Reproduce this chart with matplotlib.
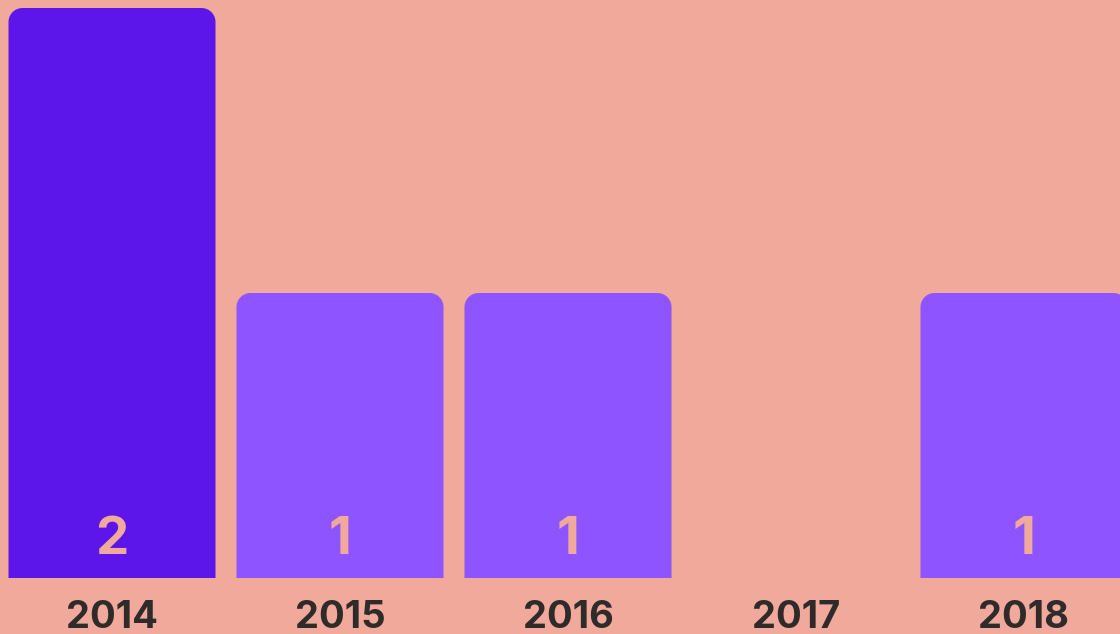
import matplotlib.pyplot as plt
import numpy as np
from matplotlib.path import Path
from matplotlib.patches import PathPatch

years = ['2014', '2015', '2016', '2017', '2018']
counts = [2, 1, 1, 0, 1]
bar_colors = ['#5C16EA', '#8E54FF', '#8E54FF', '#8E54FF', '#8E54FF']

bg = '#F0A99A'
plt.rcParams['font.family'] = ['Inter', 'DejaVu Sans']

fig = plt.figure(figsize=(11.2, 6.34), dpi=100, facecolor=bg)
ax = fig.add_axes([0, 56 / 634, 1, 578 / 634])
ax.set_facecolor(bg)

x = np.arange(len(years))
bars = ax.bar(x, counts, width=207 / 228, color=bar_colors)
ax.set_xlim(-112 / 228, (1120 - 112) / 228)
ax.set_ylim(0, 2 * 578 / 570)

# rounded top corners, radius in pixels
r_px = 14
fig.canvas.draw()
ppx = ax.transData.transform([(0, 0), (1, 1)])
ux = ppx[1, 0] - ppx[0, 0]
uy = ppx[1, 1] - ppx[0, 1]
rx, ry = r_px / ux, r_px / uy
t = np.linspace(0, np.pi / 2, 16)
for rect in bars:
    x0, y0 = rect.get_x(), rect.get_y()
    w, h = rect.get_width(), rect.get_height()
    rect.set_visible(False)
    if h <= 0:
        continue
    pts = [(x0, y0), (x0 + w, y0)]
    for a in t:
        pts.append((x0 + w - rx + rx * np.cos(a), y0 + h - ry + ry * np.sin(a)))
    for a in t:
        pts.append((x0 + rx - rx * np.sin(a), y0 + h - ry + ry * np.cos(a)))
    pts.append((x0, y0))
    codes = [Path.MOVETO] + [Path.LINETO] * (len(pts) - 2) + [Path.CLOSEPOLY]
    ax.add_patch(PathPatch(Path(pts, codes), facecolor=rect.get_facecolor(),
                           edgecolor='none', clip_on=True))

# value labels near the bottom of each bar
for xi, c in zip(x, counts):
    if c > 0:
        ax.annotate(str(c), (xi, 0), xytext=(0, 38 * 0.72), textcoords='offset points',
                    ha='center', va='center', color=bg, fontsize=38,
                    fontweight='bold')

ax.set_xticks(x)
ax.set_xticklabels(years, fontsize=27.5, fontweight='bold', color='#2E2B2A')
ax.tick_params(axis='x', length=0, pad=16)
ax.set_yticks([])
for s in ax.spines.values():
    s.set_visible(False)

fig.savefig('out.png', dpi=100, facecolor=bg)
